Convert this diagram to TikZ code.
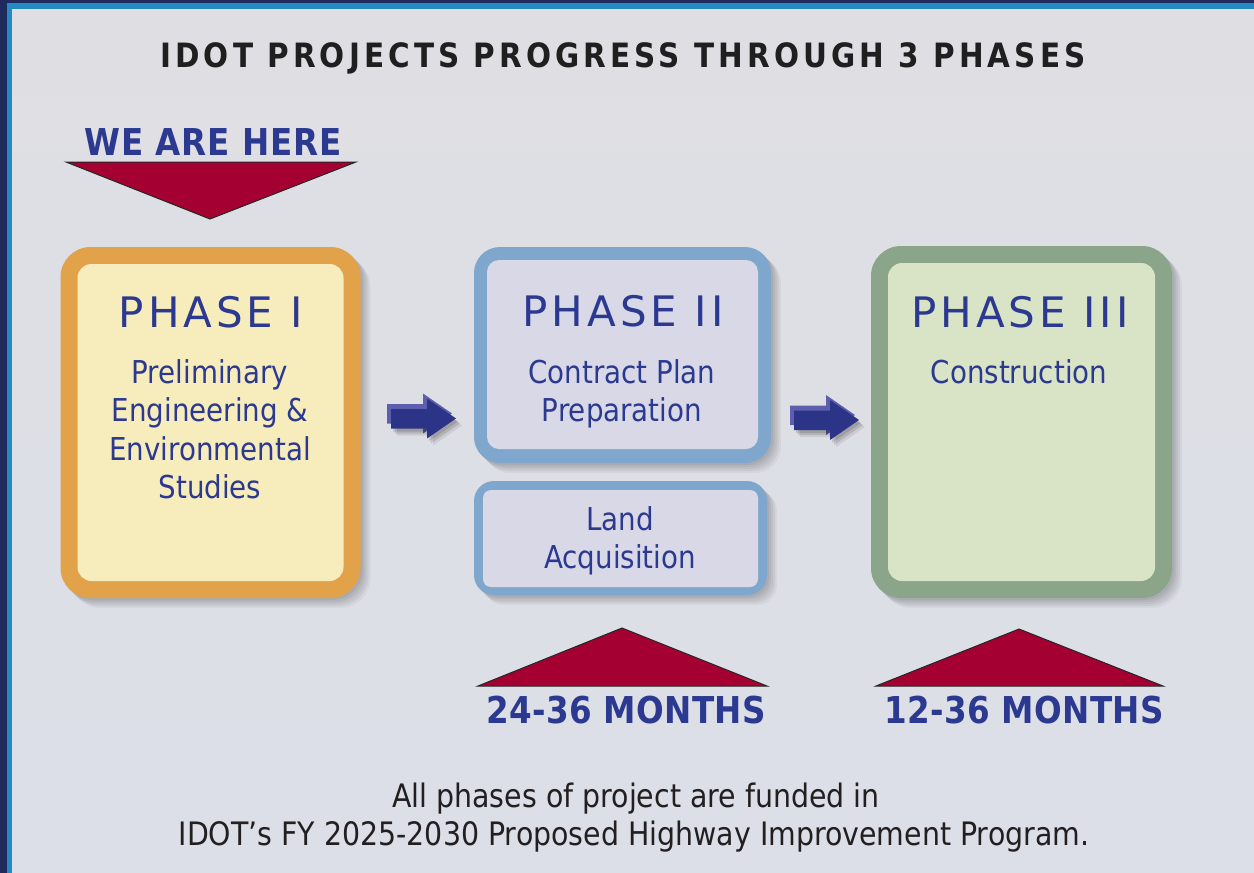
\documentclass[tikz,border=0pt]{standalone}
\usepackage{fontspec}
\setmainfont{DejaVu Sans}[FakeStretch=0.88]
\newfontfamily\titlefont{DejaVu Sans}[FakeStretch=0.88, LetterSpace=12.2]
\newfontfamily\phasefont{DejaVu Sans}[LetterSpace=9.5]
\newfontfamily\wefont{DejaVu Sans}[FakeStretch=0.88, LetterSpace=2.2]
\newfontfamily\monfont{DejaVu Sans}[FakeStretch=0.88, LetterSpace=1]
\definecolor{navy}{HTML}{1E2B5C}
\definecolor{edgeblue}{HTML}{248BC2}
\definecolor{panelTop}{HTML}{DFDFE3}
\definecolor{panelBot}{HTML}{DCDFE8}
\definecolor{idblue}{HTML}{2B3990}
\definecolor{crimson}{HTML}{A50032}
\definecolor{orangeB}{HTML}{E1A24A}
\definecolor{cream}{HTML}{F7ECBB}
\definecolor{blueB}{HTML}{7FA7CE}
\definecolor{lav}{HTML}{D8D8E6}
\definecolor{greenB}{HTML}{8AA58A}
\definecolor{sage}{HTML}{D9E3C6}
\definecolor{arrowfront}{HTML}{2C3488}
\definecolor{arrowback}{HTML}{5D5FAE}
\definecolor{bodytext}{HTML}{231F20}
\begin{document}
\begin{tikzpicture}[x=1pt,y=-1pt,
  txt/.style={anchor=base, inner sep=0pt, text=idblue},
  bodyfont/.style={font=\fontsize{31.5}{38.5}\selectfont},
  softshadow/.style={
    preaction={fill=black, opacity=0.05, transform canvas={shift={(2pt,-2pt)}}},
    preaction={fill=black, opacity=0.05, transform canvas={shift={(4pt,-4pt)}}},
    preaction={fill=black, opacity=0.05, transform canvas={shift={(6pt,-6pt)}}},
    preaction={fill=black, opacity=0.05, transform canvas={shift={(8pt,-8pt)}}},
    preaction={fill=black, opacity=0.04, transform canvas={shift={(10pt,-10pt)}}}},
  outerbox/.style={rounded corners=#1, inner sep=0pt, softshadow},
  innerbox/.style={rounded corners=#1, inner sep=0pt},
  tri/.style={fill=crimson, draw=black!85, line width=1pt},
  arrowshadow/.style={
    preaction={fill=black, opacity=0.12, transform canvas={shift={(2pt,-3pt)}}},
    preaction={fill=black, opacity=0.12, transform canvas={shift={(4pt,-5pt)}}},
    preaction={fill=black, opacity=0.08, transform canvas={shift={(6pt,-7pt)}}}},
  fatarrow/.pic={
    \fill[arrowback] (-4,-14.5) -- (32,-14.5) -- (32,-25) -- (61,-5) -- (32,15) -- (32,5) -- (-4,5) -- cycle;
    \fill[arrowfront, arrowshadow]
      (0,-9.5) -- (36,-9.5) -- (36,-20) -- (65,0) -- (36,20) -- (36,10) -- (0,10) -- cycle;
  }]
% background
\fill[navy] (0,0) rectangle (1254,873);
\fill[edgeblue] (7,3) rectangle (1254,873);
\shade[top color=panelTop, bottom color=panelBot] (12,9) rectangle (1254,873);
\useasboundingbox (0,0) rectangle (1254,873);

% title
\node[anchor=base, inner sep=0pt, text=black!88, font=\titlefont\bfseries\fontsize{33.5}{38}\selectfont] (title) at (623,67.5) {IDOT PROJECTS PROGRESS THROUGH 3 PHASES};

% we are here
\node[txt, font=\wefont\bfseries\fontsize{37}{42}\selectfont] (here) at (213,155) {WE ARE HERE};
\draw[tri] (66,162) -- (356,162) -- (210,219) -- cycle;

% Phase I
\node[outerbox=30pt, fill=orangeB, minimum width=300pt, minimum height=351pt] (p1) at (210.5,422.5) {};
\node[innerbox=14pt, fill=cream, minimum width=266pt, minimum height=317pt] (p1in) at (p1) {};
\node[txt, font=\phasefont\fontsize{42}{48}\selectfont] (p1t) at (211,327) {PHASE I};
\node[txt, bodyfont] (p1a) at (210,383.5) {Preliminary};
\node[txt, bodyfont] (p1b) at (210,421.5) {Engineering \&};
\node[txt, bodyfont] (p1c) at (210,460.5) {Environmental};
\node[txt, bodyfont] (p1d) at (210,498.5) {Studies};

% Phase II
\node[outerbox=26pt, fill=blueB, minimum width=297pt, minimum height=216pt] (p2) at (622.5,355) {};
\node[innerbox=12pt, fill=lav, minimum width=271pt, minimum height=189pt] (p2in) at (622.5,354.5) {};
\node[txt, font=\phasefont\fontsize{42}{48}\selectfont] (p2t) at (623,326) {PHASE II};
\node[txt, bodyfont] (p2a) at (622,383.5) {Contract Plan};
\node[txt, bodyfont] (p2b) at (622,421.5) {Preparation};

% Land acquisition
\node[outerbox=20pt, fill=blueB, minimum width=293pt, minimum height=114pt] (la) at (620.5,538) {};
\node[innerbox=8pt, fill=lav, minimum width=275pt, minimum height=97pt] (lain) at (620.5,538.5) {};
\node[txt, bodyfont] (laa) at (620,530) {Land};
\node[txt, bodyfont] (lab) at (620,568) {Acquisition};

% Phase III
\node[outerbox=30pt, fill=greenB, minimum width=301pt, minimum height=352pt] (p3) at (1021.5,422) {};
\node[innerbox=14pt, fill=sage, minimum width=267pt, minimum height=318pt] (p3in) at (p3) {};
\node[txt, font=\phasefont\fontsize{42}{48}\selectfont] (p3t) at (1020,327) {PHASE III};
\node[txt, bodyfont] (p3a) at (1019,383.5) {Construction};

% arrows
\pic at (391,418.5) {fatarrow};
\pic at (794,420) {fatarrow};

% month triangles
\draw[tri] (478,686) -- (767,686) -- (622,628) -- cycle;
\draw[tri] (876,686) -- (1163,686) -- (1019,629) -- cycle;
\node[txt, font=\monfont\bfseries\fontsize{37}{42}\selectfont] (m2) at (626,723) {24-36 MONTHS};
\node[txt, font=\monfont\bfseries\fontsize{37}{42}\selectfont] (m3) at (1024,723) {12-36 MONTHS};

% footer
\node[anchor=base, inner sep=0pt, text=bodytext, font=\fontsize{32.3}{38}\selectfont] (f1) at (636,807) {All phases of project are funded in};
\node[anchor=base, inner sep=0pt, text=bodytext, font=\fontsize{32.3}{38}\selectfont] (f2) at (634,845) {IDOT’s FY 2025-2030 Proposed Highway Improvement Program.};
\end{tikzpicture}
\end{document}
